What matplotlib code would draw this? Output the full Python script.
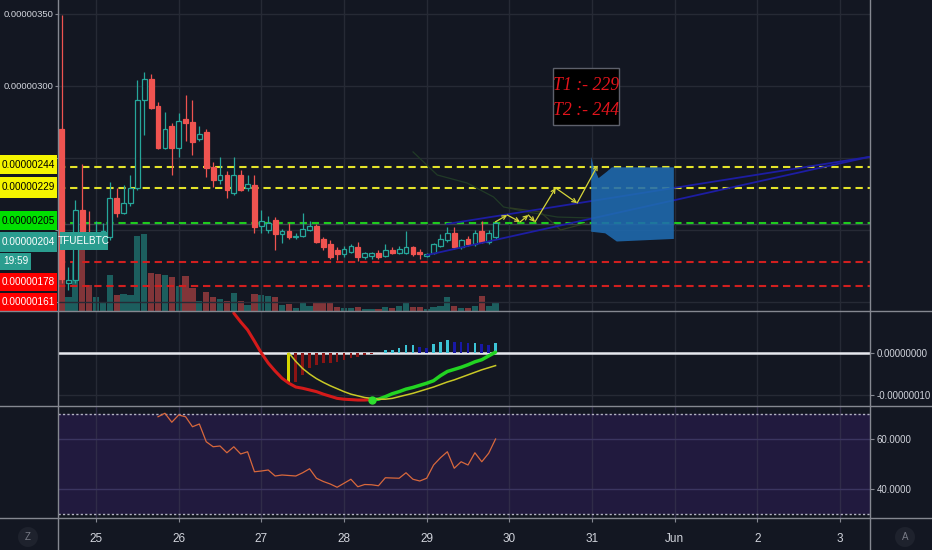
import matplotlib
matplotlib.use("Agg")
import matplotlib.pyplot as plt
from matplotlib.patches import Rectangle, Polygon, Ellipse
from matplotlib.lines import Line2D
import numpy as np

plt.rcParams['font.family'] = ['Liberation Sans', 'DejaVu Sans']

# ---------------- data (prices in 1e-8 BTC, days of May; 32 = Jun 1) ----------------
candle_start = 24 + 7 / 12          # 24 May 14:00, 2-hour candles
candle_step = 1 / 12
opens = [270, 163, 165, 214, 198, 194, 196, 195, 222, 212, 219, 229, 290, 305, 286, 257,
         272, 257, 277, 275, 263, 268, 244, 235, 238, 226, 238, 229, 231, 203, 200, 207,
         197, 199, 195, 196, 200, 203, 194, 190, 186, 183, 185, 188, 181, 182, 184, 182,
         186, 184, 184, 188, 185, 182, 184, 189, 193, 198, 188, 194, 190, 199, 192, 195]
highs = [349, 174, 221, 246, 213, 206, 205, 233, 229, 231, 238, 304, 310, 308, 289, 282,
         274, 281, 294, 290, 272, 270, 247, 251, 241, 251, 242, 238, 238, 214, 210, 209,
         201, 205, 198, 212, 206, 204, 195, 193, 188, 189, 190, 192, 185, 185, 186, 190,
         188, 189, 199, 189, 187, 184, 191, 197, 202, 202, 194, 196, 200, 206, 200, 206]
lows = [163, 158, 163, 190, 190, 192, 194, 193, 209, 211, 217, 228, 266, 284, 256, 256,
        238, 251, 262, 252, 262, 237, 230, 232, 222, 224, 227, 227, 198, 198, 198, 186,
        191, 194, 194, 195, 199, 191, 186, 180, 179, 181, 184, 178.5, 180, 180, 180, 181,
        183, 183, 183, 182, 180, 181, 183, 188, 192, 187, 187, 189, 189, 191, 190, 194]
closes = [166, 165, 214, 193, 194, 198, 199, 222, 212, 219, 229, 290, 305, 285, 257, 270,
          257, 276, 274, 261, 267, 243, 235, 238, 228, 238, 228, 232, 202, 206, 205, 197,
          199, 195, 196, 201, 203, 192, 188, 181, 183, 187, 189, 181, 184, 184, 181, 186,
          184, 187, 188, 183, 183, 183, 190, 194, 198, 188, 193, 190, 198, 192, 198, 205]
volumes = [80, 14, 48, 68, 26, 14, 8, 36, 16, 17, 16, 75, 77, 38, 37, 36,
           34, 25, 35, 23, 10, 19, 14, 12, 10, 18, 10, 6, 17, 16, 15, 14,
           6, 7, 3, 8, 5, 8, 8, 8, 4, 3, 3, 4, 2, 2, 2, 4,
           3, 5, 8, 4, 4, 2, 4, 5, 14, 5, 3, 3, 5, 15, 5, 8]

macd_start = 25
macd_vals = [9.5, 7.4, 5.5, 2.8, 0.0, -2.4, -4.3, -6.0, -7.2, -8.1, -8.4, -8.8, -9.2, -9.8,
             -10.3, -10.8, -11.0, -11.1, -11.2, -11.2, -11.1, -11.0, -10.4, -9.7, -9.2,
             -8.6, -8.2, -7.7, -7.2, -6.6, -5.4, -4.4, -3.9, -3.4, -2.8, -2.1, -1.6, -0.7, 0.2]
macd_turn = 45
signal_start = 33
signal_vals = [0.0, -2.0, -3.7, -5.0, -6.1, -7.0, -7.8, -8.5, -9.2, -9.8, -10.2, -10.6, -10.8,
               -11.0, -11.0, -10.8, -10.4, -10.0, -9.6, -9.1, -8.6, -8.1, -7.5, -6.9, -6.4,
               -5.8, -5.2, -4.6, -4.0, -3.5, -3.0]
hist_start = 33
hist_vals = [-7.2, -6.9, -5.2, -3.6, -2.9, -2.4, -2.4, -2.1, -1.7, -1.2, -1.0, -0.5, -0.2, -0.1,
             0.63, 0.8, 1.3, 1.8, 1.85, 1.4, 1.3, 2.2, 2.6, 3.0, 2.6, 2.5, 2.3, 2.45, 2.1, 2.0, 2.4]

rsi_start = 14
rsi_vals = [68.9, 70.3, 66.7, 69.6, 68.9, 64.9, 66.0, 58.9, 56.9, 57.2, 54.5, 56.9, 54.0, 54.9,
            46.9, 47.2, 47.6, 45.2, 45.6, 45.4, 45.2, 46.5, 48.1, 44.3, 43.0, 42.0, 40.7, 42.3,
            43.9, 40.9, 41.8, 41.7, 41.3, 44.5, 44.4, 44.3, 46.5, 43.9, 43.2, 44.3, 49.6, 52.5,
            54.9, 48.3, 50.9, 49.6, 54.5, 50.9, 54.3, 60.0]

target_levels = [244, 229]
support_level = 205
red_levels = [178, 161]
last_price = 204
symbol = "TFUELBTC"
countdown = "19:59"

lower_trend = ([29.005, 34.35], [182.6, 250.7])
upper_trend = ([29.247, 34.35], [204.2, 250.7])
path_days = [29.83, 29.975, 30.13, 30.23, 30.31, 30.56, 30.82, 31.07]
path_prices = [205.6, 210.4, 205.6, 210.4, 205.6, 229.2, 218.7, 245.0]
zone_days = [30.99, 31.02, 31.08, 31.18, 31.24, 31.99, 31.99, 31.30, 31.16, 30.99]
zone_prices = [250.7, 244.0, 236.0, 240.5, 243.5, 243.5, 193.8, 192.0, 197.7, 198.8]
ghost1_days = [28.835, 29.128, 29.49, 29.81, 29.93, 30.22, 30.58, 31.0]
ghost1_prices = [254.2, 238.2, 232.6, 222.9, 216.0, 212.5, 209.0, 208.3]
ghost2_days = [30.01, 30.375, 30.62, 30.94]
ghost2_prices = [215.3, 212.5, 200.0, 204.9]

day_ticks = [25, 26, 27, 28, 29, 30, 31, 32, 33, 34]
day_labels = ['25', '26', '27', '28', '29', '30', '31', 'Jun', '2', '3']
price_ticks = [150, 200, 250, 300, 350]
price_ticks_shown = [300, 350]     # the others sit under the level labels

# ---------------- style ----------------
BG = '#131722'
GRID = '#262a35'
SEP = '#858891'
TXT = '#d1d4dc'
UP = '#26a69a'
DOWN = '#ef5350'
LFS = 7.2
TFS = 6.8
RFS = 6.9
W, H = 932, 550

fig = plt.figure(figsize=(W / 100, H / 100), dpi=100, facecolor=BG)


def rect(y0, y1):
    return [58 / W, 1 - y1 / H, 812 / W, (y1 - y0) / H]


axv = fig.add_axes(rect(0, 311), facecolor=BG)
ax = fig.add_axes(rect(0, 311), facecolor='none', sharex=axv)
ax2 = fig.add_axes(rect(311, 406), facecolor=BG, sharex=axv)
ax3 = fig.add_axes(rect(406, 518), facecolor=BG, sharex=axv)
for a in (axv, ax, ax2, ax3):
    for s in a.spines.values():
        s.set_visible(False)
    a.tick_params(axis='x', bottom=False, labelbottom=False)

axv.set_xlim(24.54, 34.363)
axv.set_xticks(day_ticks)
axv.set_ylim(0, 311)
axv.set_yticks([])

t = candle_start + candle_step * np.arange(len(opens))
o = np.array(opens, float); h = np.array(highs, float)
l = np.array(lows, float); c = np.array(closes, float)
up = c >= o

# volume
axv.bar(t, volumes, width=0.075, color=[UP if u else DOWN for u in up], alpha=0.5,
        linewidth=0, zorder=2)

# main pane
ax.set_ylim(143.75, 359.7)
ax.set_yticks(price_ticks)
ax.set_yticklabels([f"{v * 1e-8:.8f}" if v in price_ticks_shown else '' for v in price_ticks])
ax.tick_params(axis='y', left=True, length=2, color=SEP, labelcolor=TXT, labelsize=TFS, pad=1)
ax.grid(True, color=GRID, lw=1, zorder=0)

ax.axhline(last_price, color='#3a3f4b', lw=1, zorder=1)
for lv in target_levels:
    ax.axhline(lv, color='#e3e32a', lw=1.5, dashes=(3.5, 2.3), zorder=2)
ax.axhline(support_level, color='#1ecb1e', lw=1.5, dashes=(3.5, 2.3), zorder=2)
for lv in red_levels:
    ax.axhline(lv, color='#d11f1f', lw=1.5, dashes=(3.5, 2.3), zorder=2)

cols = np.where(up, UP, DOWN)
ax.vlines(t, l, h, colors=cols, lw=0.9, zorder=3)
body_lo = np.minimum(o, c)
body_h = np.maximum(np.abs(c - o), 0.8)
ax.bar(t, body_h, bottom=body_lo, width=0.058,
       color=[BG if u else DOWN for u in up], edgecolor=cols, linewidth=0.9, zorder=4)

# drawings
ax.plot(ghost1_days, ghost1_prices, color='#213a27', lw=0.9, zorder=2)
ax.plot(ghost2_days, ghost2_prices, color='#2f3b22', lw=0.9, zorder=2)
ax.plot(*lower_trend, color='#1d1da3', lw=1.3, zorder=5)
ax.plot(*upper_trend, color='#1d1da3', lw=1.3, zorder=5)
for i in range(len(path_days) - 1):
    ax.annotate('', xy=(path_days[i + 1], path_prices[i + 1]),
                xytext=(path_days[i], path_prices[i]),
                arrowprops=dict(arrowstyle='->', color='#d6d63a', lw=0.9,
                                shrinkA=0, shrinkB=0, mutation_scale=7), zorder=6)
ax.add_patch(Polygon(list(zip(zone_days, zone_prices)), closed=True,
                     facecolor='#1f6bb0', edgecolor='none', alpha=0.88, zorder=5))

# T1 / T2 box
ax.add_patch(Rectangle((30.53, 272.9), 0.80, 39.6, facecolor='black',
                       edgecolor='#5d606b', lw=1, zorder=7))
ax.text(30.93, 300.5, f"T1 :- {target_levels[1]}", ha='center', va='center', color='#e3141c',
        fontsize=12.8, style='italic', family=['Liberation Serif', 'DejaVu Serif'], zorder=8)
ax.text(30.93, 283.0, f"T2 :- {target_levels[0]}", ha='center', va='center', color='#e3141c',
        fontsize=12.8, style='italic', family=['Liberation Serif', 'DejaVu Serif'], zorder=8)

# MACD pane
ax2.set_ylim(-12.62, 10.0)
ax2.yaxis.tick_right()
ax2.set_yticks([0, -10])
ax2.set_yticklabels([f"{v * 1e-8:.8f}" for v in [0, -10]])
ax2.tick_params(axis='y', right=True, length=3, color=SEP, labelcolor=TXT, labelsize=RFS, pad=2)
ax2.grid(True, color=GRID, lw=1, zorder=0)
ax2.axhline(0, color='#e6e8ee', lw=1.8, zorder=2)

hv = np.array(hist_vals)
ht = candle_start + candle_step * (hist_start + np.arange(len(hv)))
hcol = []
for k, v in enumerate(hv):
    if k == 0:
        hcol.append('#d6d600')
    elif v < 0:
        hcol.append('#8a1414')
    else:
        hcol.append('#3cc4d6' if v >= hv[k - 1] else '#1818a6')
ax2.bar(ht, hv, width=[0.036] + [0.032] * (len(hv) - 1), color=hcol, linewidth=0, zorder=3)

mt = candle_start + candle_step * (macd_start + np.arange(len(macd_vals)))
mv = np.array(macd_vals)
k_turn = macd_turn - macd_start
ax2.plot(mt[:k_turn + 1], mv[:k_turn + 1], color='#d41a1a', lw=2.2, zorder=4,
         solid_capstyle='round')
ax2.plot(mt[k_turn:], mv[k_turn:], color='#22d422', lw=2.5, zorder=4, solid_capstyle='round')
st = candle_start + candle_step * (signal_start + np.arange(len(signal_vals)))
ax2.plot(st, signal_vals, color='#c9c926', lw=1.1, zorder=5)
ax2.plot([mt[k_turn]], [mv[k_turn]], 'o', color='#2ee02e', ms=5, zorder=6)

# RSI pane
ax3.set_ylim(28.4, 73.2)
ax3.axhspan(30, 70, color='#211a3e', zorder=0.5, lw=0)
ax3.yaxis.tick_right()
ax3.set_yticks([40, 60])
ax3.set_yticklabels([f"{v:.4f}" for v in [40, 60]])
ax3.tick_params(axis='y', right=True, length=3, color=SEP, labelcolor=TXT, labelsize=RFS, pad=2)
ax3.grid(True, axis='y', color='#3b3560', lw=1)
ax3.grid(True, axis='x', color='#302c48', lw=1)
for lv in (70, 30):
    ax3.axhline(lv, color='#b4b4c4', lw=1, dashes=(1.6, 1.6), zorder=2)
rt = candle_start + candle_step * (rsi_start + np.arange(len(rsi_vals)))
ax3.plot(rt, rsi_vals, color='#d8683c', lw=0.9, zorder=3)
ax3.set_xticks(day_ticks)
ax3.set_xticklabels(day_labels)
ax3.tick_params(axis='x', bottom=True, labelbottom=True, length=3, color=SEP,
                labelcolor=TXT, labelsize=8.5, pad=8)

# separators
for y in (311, 406, 518):
    fig.add_artist(Line2D([0, 1], [1 - y / H, 1 - y / H], color=SEP, lw=1,
                          transform=fig.transFigure))
for x in (58, 870):
    fig.add_artist(Line2D([x / W, x / W], [0, 1], color=SEP, lw=1, transform=fig.transFigure))


# left price labels
def label_box(y0, y1, x0, x1, color, text, tcolor):
    fig.add_artist(Rectangle((x0 / W, 1 - y1 / H), (x1 - x0) / W, (y1 - y0) / H,
                             transform=fig.transFigure, facecolor=color, edgecolor='none'))
    fig.text((x0 + x1) / 2 / W, 1 - (y0 + y1) / 2 / H, text, ha='center', va='center',
             color=tcolor, fontsize=LFS)


label_box(155, 174, 0, 57, '#f5f500', f"{target_levels[0] * 1e-8:.8f}", 'black')
label_box(177, 198, 0, 57, '#f5f500', f"{target_levels[1] * 1e-8:.8f}", 'black')
label_box(211, 230, 0, 57, '#00e000', f"{support_level * 1e-8:.8f}", 'black')
label_box(232, 252, 0, 57, '#2a9d8f', f"{last_price * 1e-8:.8f}", 'white')
label_box(232, 250, 60, 108, '#2a9d8f', symbol, 'white')
label_box(253, 270, 0, 31, '#2a9d8f', countdown, 'white')
label_box(273, 291, 0, 57, '#ff0000', f"{red_levels[0] * 1e-8:.8f}", 'white')
label_box(293, 311, 0, 57, '#ff0000', f"{red_levels[1] * 1e-8:.8f}", 'white')

# corner buttons
for x, s in ((28, 'Z'), (905, 'A')):
    fig.add_artist(Ellipse((x / W, 1 - 537 / H), 20 / W, 20 / H, transform=fig.transFigure,
                           facecolor='#1e222d', edgecolor='none'))
    fig.text(x / W, 1 - 537 / H, s, ha='center', va='center', color='#787b86', fontsize=7)

fig.savefig('out.png', dpi=100, facecolor=BG)
